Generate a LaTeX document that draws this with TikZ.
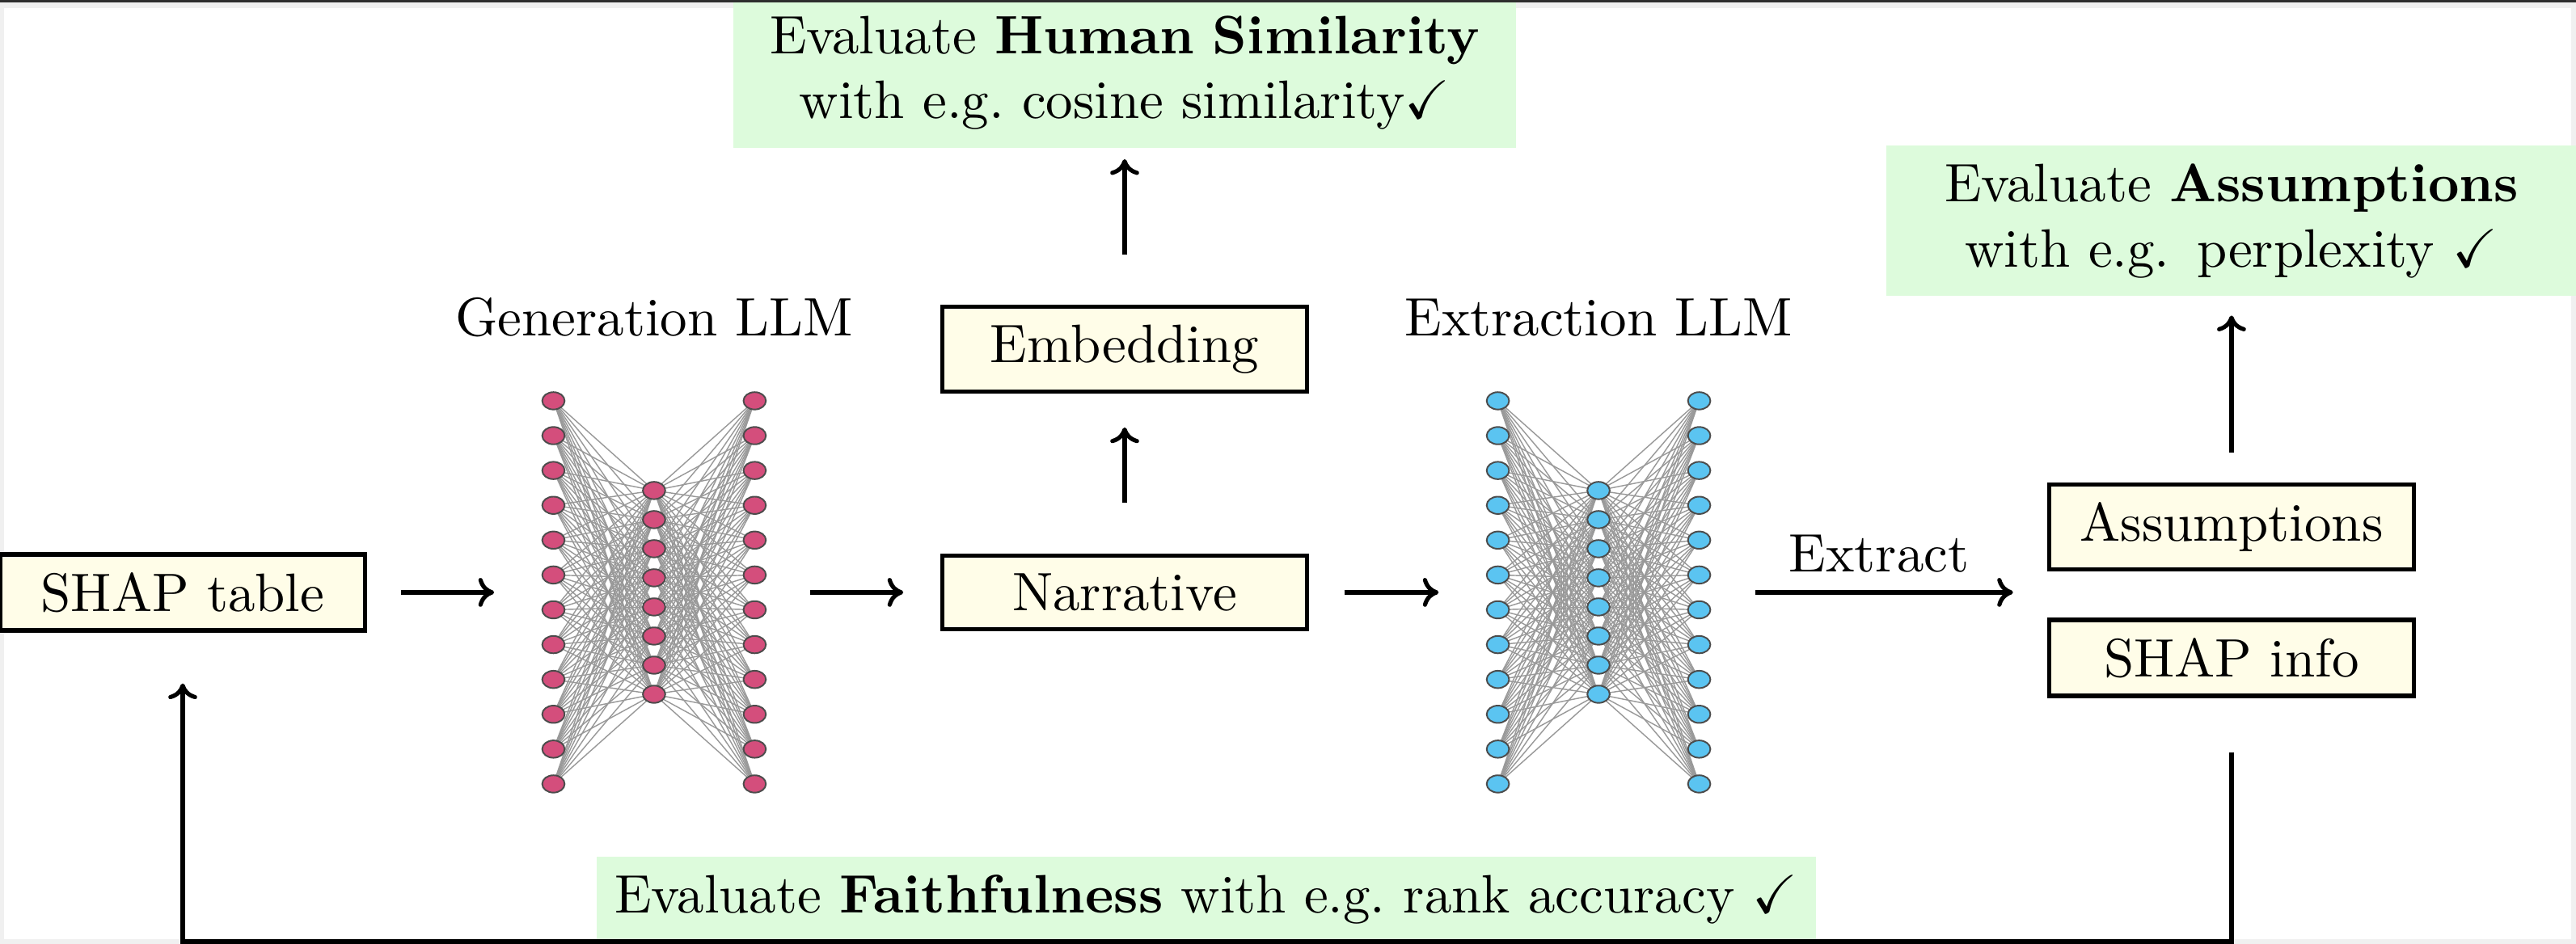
\documentclass[tikz,border=0pt]{standalone}
\usepackage{amssymb}
\usepackage{tikz}
\usetikzlibrary{positioning,arrows.meta,shapes.geometric,backgrounds}
\definecolor{boxfill}{HTML}{FFFDE8}
\definecolor{evalgreen}{HTML}{DDFBDC}
\definecolor{genpink}{HTML}{D44E7C}
\definecolor{extblue}{HTML}{5BC4F1}
\definecolor{framegray}{HTML}{F0F0F0}
\definecolor{topbar}{HTML}{2E2E2E}

\begin{document}
\fontsize{10.3pt}{12.4pt}\selectfont
\begin{tikzpicture}[box/.style={draw, thick, fill=boxfill, minimum width=2.44cm},
  evalbox/.style={fill=evalgreen, align=center},
  arr/.style={thick, -{Computer Modern Rightarrow[length=3pt,width=5.5pt]}}]
\tikzstyle{neuron}=[ellipse, draw=black!70, line width=0.3pt, inner sep=0pt, minimum width=0.15cm, minimum height=0.116cm]
\tikzstyle{wire}=[black!40, line width=0.22pt]
\useasboundingbox (0,0) rectangle (17.227,6.315);
% boxes
\node[box] (shap) at (1.222,2.352) {SHAP table};
\node[box] (narr) at (7.521,2.352) {Narrative};
\node[box] (emb) at (7.521,3.980) {Embedding};
\node[box] (assm) at (14.923,2.790) {Assumptions};
\node[box] (shapinfo) at (14.923,1.914) {SHAP info};
% evaluation notes
\node[evalbox, text width=142pt, anchor=south] (human) at (7.521,5.320) {Evaluate \textbf{Human Similarity}\\ with e.g.\ cosine similarity$\checkmark$};
\node[evalbox, text width=124.5pt] (assmeval) at (14.923,4.837) {Evaluate \textbf{Assumptions}\\ with e.g. perplexity $\checkmark$};
\node[evalbox] (faith) at (8.067,0.297) {Evaluate \textbf{Faithfulness} with e.g.\ rank accuracy $\checkmark$};
% the two LLMs
\foreach \net/\cx/\col/\name in {g/4.374/genpink/Generation LLM, e/10.690/extblue/Extraction LLM}{
  \node[anchor=base] (\net lbl) at (\cx,4.066) {\name};
  \foreach \i in {1,...,12}{
    \node[neuron, fill=\col] (\net l\i) at ({\cx-0.673},{2.352+0.233*(6.5-\i)}) {};
    \node[neuron, fill=\col] (\net r\i) at ({\cx+0.673},{2.352+0.233*(6.5-\i)}) {};
  }
  \foreach \j in {1,...,8}
    \node[neuron, fill=\col] (\net m\j) at (\cx,{2.352+0.1947*(4.5-\j)}) {};
}
\begin{scope}[on background layer]
\fill[framegray, even odd rule] (0,0) rectangle (17.227,6.315) (0.027,0.032) rectangle (17.194,6.261);
\foreach \net in {g,e}
  \foreach \i in {1,...,12}
    \foreach \j in {1,...,8}{
      \draw[wire] (\net l\i.center) -- (\net m\j.center);
      \draw[wire] (\net m\j.center) -- (\net r\i.center);
    }
\end{scope}
% arrows
\draw[arr, shorten <=0.227cm, shorten >=0.316cm] (shap.east) -- (shap.east -| gl6.west);
\draw[arr, shorten <=0.289cm, shorten >=0.246cm] (narr.west -| gr6.east) -- (narr.west);
\draw[arr, shorten <=0.235cm, shorten >=0.316cm] (narr.east) -- (narr.east -| el6.west);
\draw[arr, shorten <=0.295cm, shorten >=0.227cm] (narr.east -| er6.east) -- node[above]{Extract} (narr.east -| assm.west);
\draw[arr, shorten <=0.341cm, shorten >=0.227cm] (narr.north) -- (emb.south);
\draw[arr, shorten <=0.335cm, shorten >=0.07cm] (emb.north) -- (human.south);
\draw[arr, shorten <=0.2cm, shorten >=0.124cm] (assm.north) -- (assmeval.south);
\coordinate (loopbot) at (1.222,0.016);
\draw[arr, shorten <=0.362cm, shorten >=0.341cm] (shapinfo.south) |- (loopbot) -| (shap.south);
\fill[topbar] (0,6.299) rectangle (17.227,6.315);
\end{tikzpicture}
\end{document}
